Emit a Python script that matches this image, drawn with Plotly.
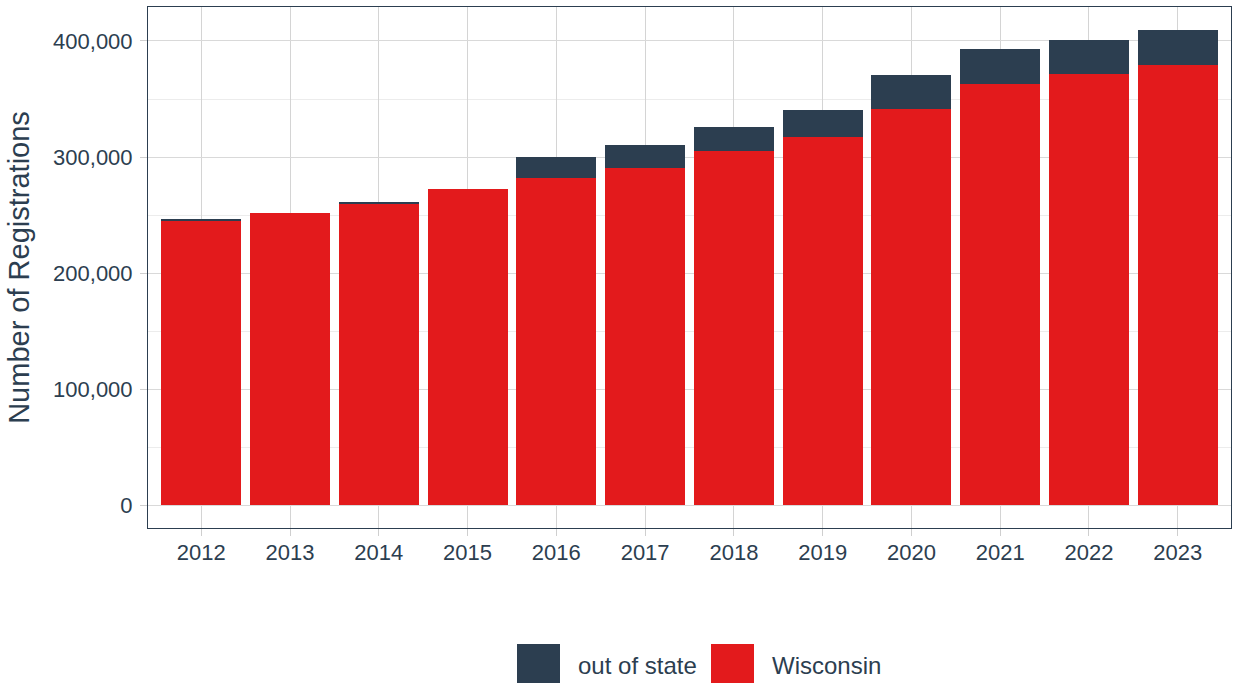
import plotly.graph_objects as go

years = ["2012", "2013", "2014", "2015", "2016", "2017", "2018", "2019", "2020", "2021", "2022", "2023"]
wisconsin = [245600, 251900, 259600, 272400, 281900, 290500, 305200, 317200, 341400, 363200, 371800, 379300]
out_of_state = [900, 0, 900, 0, 18400, 19800, 20700, 23300, 29300, 29900, 29100, 30200]
series_names = ["out of state", "Wisconsin"]
series_colors = ["#2C3E50", "#E31A1C"]
y_ticks = [0, 100000, 200000, 300000, 400000]
y_ticktext = ["0", "100,000", "200,000", "300,000", "400,000"]

TEXT = "#2C3E50"
FONT = "Liberation Sans, Arial, sans-serif"

fig = go.Figure()
fig.add_trace(go.Bar(x=years, y=wisconsin, name=series_names[1],
                     marker=dict(color=series_colors[1], line=dict(width=0))))
fig.add_trace(go.Bar(x=years, y=out_of_state, name=series_names[0],
                     marker=dict(color=series_colors[0], line=dict(width=0))))

fig.update_layout(
    width=1236, height=683,
    barmode="stack", bargap=0.1,
    showlegend=False,
    plot_bgcolor="white", paper_bgcolor="white",
    margin=dict(l=148, r=5, t=7, b=155),
    font=dict(family=FONT, color=TEXT, size=22),
)
fig.update_xaxes(
    type="category", range=[-0.6, 11.6],
    showline=True, mirror=True, linecolor=TEXT, linewidth=1,
    showgrid=True, gridcolor="#d4d4d4", gridwidth=1,
    ticks="outside", ticklen=7, tickcolor="#cfcfcf",
    tickfont=dict(size=22, color=TEXT),
    ticklabelstandoff=-2,
)
fig.update_yaxes(
    range=[-19800, 429300],
    tickvals=y_ticks, ticktext=y_ticktext,
    showline=True, mirror=True, linecolor=TEXT, linewidth=1,
    showgrid=True, gridcolor="#d9d9d9", gridwidth=1,
    minor=dict(dtick=50000, tick0=0, showgrid=True, gridcolor="#ececec", gridwidth=1),
    zeroline=False,
    ticks="outside", ticklen=7, tickcolor="#cfcfcf",
    tickfont=dict(size=22, color=TEXT),
    ticklabelstandoff=3,
    title=dict(text="Number of Registrations", font=dict(size=29, color=TEXT), standoff=14),
)

# Legend drawn at bottom with large swatches
plot_w = 1236 - 148 - 5
plot_h = 683 - 7 - 155
def px_x(px):
    return (px - 148) / plot_w
def px_y(py):
    return (683 - 155 - py) / plot_h

legend_items = [(series_names[0], series_colors[0], 517, 576), (series_names[1], series_colors[1], 711, 770)]
for name, color, sx, tx in legend_items:
    fig.add_shape(type="rect", xref="paper", yref="paper",
                  x0=px_x(sx), x1=px_x(sx + 43), y0=px_y(644), y1=px_y(686),
                  fillcolor=color, line=dict(width=0), layer="above")
    fig.add_annotation(xref="paper", yref="paper", x=px_x(tx), y=px_y(665),
                       text=name, showarrow=False, xanchor="left", yanchor="middle",
                       font=dict(size=24, color=TEXT, family=FONT))

fig.write_html("out.html", config={"displayModeBar": False},
               post_script="document.body.style.margin='0';document.body.style.overflow='hidden';")
